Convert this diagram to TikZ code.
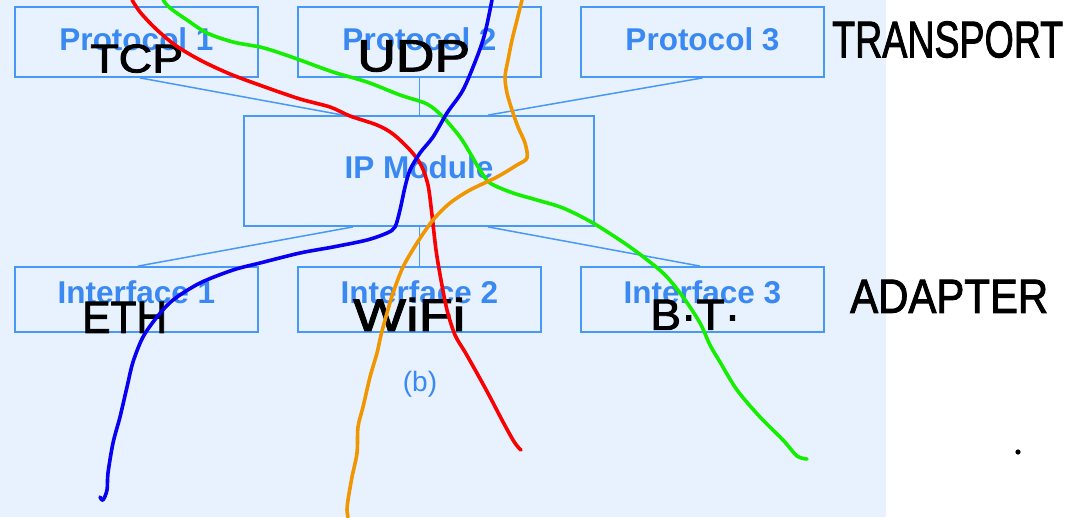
\documentclass[tikz,border=0pt]{standalone}
\usepackage{fontspec}
\usepackage{graphicx}
\setmainfont{Liberation Sans}
\newfontfamily\handfont[FakeBold=2]{Liberation Sans}
\definecolor{bgblue}{RGB}{232,242,254}
\definecolor{boxblue}{RGB}{72,152,246}
\definecolor{txtblue}{RGB}{58,136,242}
\definecolor{penred}{RGB}{250,0,0}
\definecolor{pengreen}{RGB}{20,238,0}
\definecolor{penblue}{RGB}{8,0,240}
\definecolor{penorange}{RGB}{240,150,0}
\tikzset{
  layerbox/.style={draw=boxblue, line width=1.8pt, inner sep=0pt,
    text=txtblue, font=\fontsize{31.5}{31.5}\selectfont\bfseries, text height=23pt},
  link/.style={draw=boxblue, line width=1.5pt},
  pen/.style={line width=3.6pt, line cap=round, line join=round},
  hand/.style={inner sep=0pt, anchor=south west, text=black, font=\handfont\fontsize{40}{40}\selectfont}
}
\begin{document}
\begin{tikzpicture}[x=1pt,y=-1pt]
\useasboundingbox (0,0) rectangle (1078,517);
\fill[white] (0,0) rectangle (1078,517);
\fill[bgblue] (0,0) rectangle (886,517);

% boxes
\node[layerbox, minimum width=243pt, minimum height=70pt, text depth=7pt] (p1) at (136.5,42) {Protocol 1};
\node[layerbox, minimum width=243pt, minimum height=70pt, text depth=7pt] (p2) at (419.5,42) {Protocol 2};
\node[layerbox, minimum width=243pt, minimum height=70pt, text depth=7pt] (p3) at (702.5,42) {Protocol 3};
\node[layerbox, minimum width=350pt, minimum height=110pt, text depth=9pt] (ip) at (419,171) {IP Module};
\node[layerbox, minimum width=243pt, minimum height=65pt, text depth=16pt] (i1) at (136.5,299.5) {Interface 1};
\node[layerbox, minimum width=243pt, minimum height=65pt, text depth=16pt] (i2) at (419.5,299.5) {Interface 2};
\node[layerbox, minimum width=243pt, minimum height=65pt, text depth=16pt] (i3) at (702.5,299.5) {Interface 3};
\node[text=txtblue, font=\fontsize{28}{28}\selectfont, anchor=base, inner sep=0pt] (fig) at (420,391) {(b)};

% connectors
\draw[link] ([xshift=3.5pt]p1.south) -- ([xshift=-76pt]ip.north);
\draw[link] (p2.south) -- (p2.south |- ip.north);
\draw[link] (p3.south) -- ([xshift=69pt]ip.north);
\draw[link] ([xshift=-66pt]ip.south) -- ([xshift=1.5pt]i1.north);
\draw[link] (ip.south -| i2.north) -- (i2.north);
\draw[link] ([xshift=69pt]ip.south) -- ([xshift=-2.5pt]i3.north);

% handwritten labels
\node[hand] (tcp) at (90,73) {\resizebox{93pt}{28pt}{TCP}};
\node[hand] (udp) at (357,72) {\resizebox{113pt}{31pt}{UDP}};
\node[hand] (transport) at (832,58) {\resizebox{231pt}{36pt}{TRANSPORT}};
\node[hand] (eth) at (82,333) {\resizebox{85pt}{31pt}{ETH}};
\node[hand] (wifi) at (353,331) {\resizebox{112pt}{33pt}{WiFi}};
\node[hand] (bt) at (650,330) {\resizebox{90pt}{30pt}{B·T·}};
\node[hand] (adapter) at (850,313) {\resizebox{198pt}{33pt}{ADAPTER}};
\fill[black] (1018,452) circle (2.6pt);

% pen strokes
\draw[pen, penred] plot[smooth, tension=0.5] coordinates {
 (132,0) (140,12) (155,28) (175,45) (200,60) (230,74) (265,87) (300,99)
 (330,107) (350,116) (377,125) (393,134) (410,150) (421,165) (428,185)
 (432,215) (436,250) (441,280) (447,310) (455,335) (465,352) (478,375)
 (490,397) (502,420) (513,440) (518,447) (521,450)};
\draw[pen, pengreen] plot[smooth, tension=0.5] coordinates {
 (163,0) (170,8) (187,20) (207,33) (233,42) (260,47) (277,52) (300,60)
 (333,72) (367,82) (400,95) (427,104) (443,117) (460,137) (470,153)
 (480,170) (490,183) (513,193) (537,200) (563,208) (593,223) (630,247)
 (663,273) (683,297) (700,323) (710,345) (720,362) (737,390) (760,417)
 (783,440) (797,456) (807,459)};
\draw[pen, penblue] plot[smooth, tension=0.5] coordinates {
 (492,0) (485,33) (477,57) (463,90) (447,113) (433,137) (420,153)
 (410,170) (405,187) (400,210) (395,227) (387,233) (367,240) (333,247)
 (300,253) (260,263) (233,270) (200,283) (173,300) (157,317) (143,337)
 (133,362) (127,387) (120,417) (113,443) (108,473) (107,490) (103,500) (100,497)};
\draw[pen, penorange] plot[smooth, tension=0.5] coordinates {
 (522,0) (517,20) (512,40) (508,60) (505,77) (507,93) (512,110)
 (518,127) (525,143) (527,158) (517,165) (497,177) (470,190) (450,203)
 (433,220) (417,243) (403,267) (393,293) (387,313) (381,335) (377,353)
 (370,377) (363,407) (358,427) (357,453) (352,477) (348,500) (347,510) (348,517)};
\end{tikzpicture}
\end{document}
